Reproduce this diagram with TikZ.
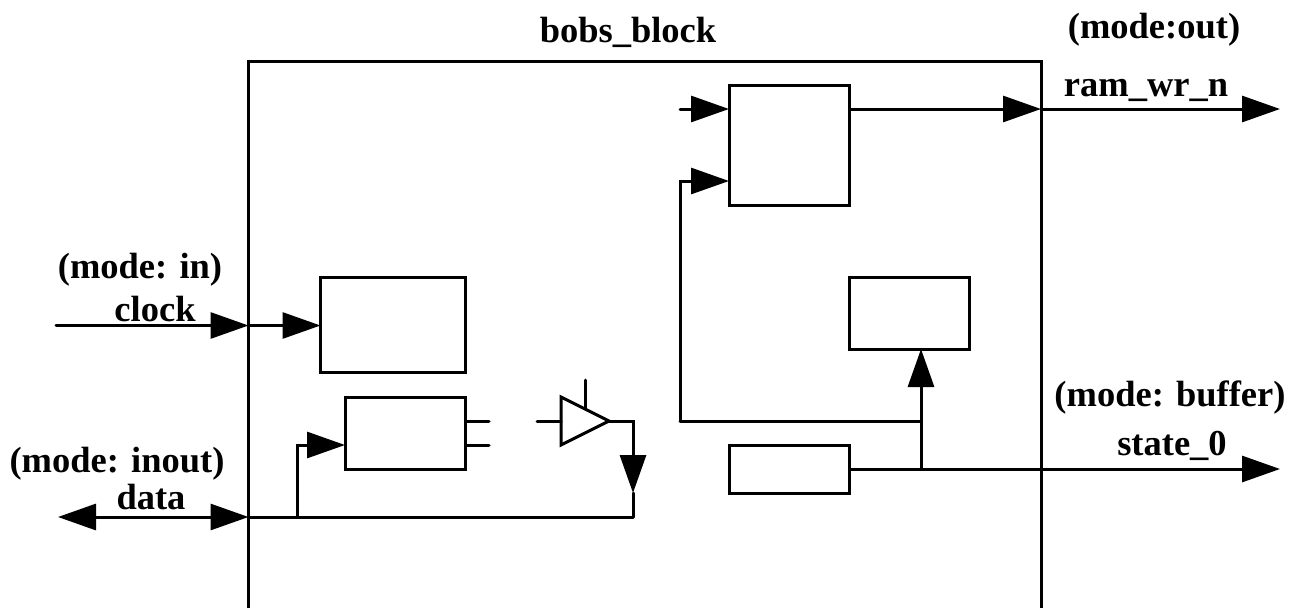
\documentclass[tikz,border=0pt]{standalone}
\usepackage{fontspec}
\setmainfont{Liberation Serif}
\usetikzlibrary{arrows.meta}
\tikzset{
  x=1pt,y=-1pt,
  wire/.style={line width=3pt,line cap=round,line join=miter},
  sig/.style={wire,-{Triangle[length=38pt,width=26pt]}},
  bisig/.style={wire,{Triangle[length=38pt,width=26pt]}-{Triangle[length=38pt,width=26pt]}},
  blockbox/.style={draw,line width=3pt,rectangle,inner sep=0pt,outer sep=0pt,anchor=north west},
  lbl/.style={font=\bfseries\fontsize{36.5}{36.5}\selectfont,anchor=base,inner sep=0pt},
  tri/.style={line width=3pt,line join=miter}
}
\begin{document}
\begin{tikzpicture}
\useasboundingbox (0,0) rectangle (1295,608);
% outer block
\coordinate (oTL) at (248.5,61);
\coordinate (oTR) at (1041,61);
\coordinate (oBL) at (248.5,608);
\coordinate (oBR) at (1041,608);
\draw[wire,line cap=butt] (oBL) -- (oTL) -- (oTR) -- (oBR);
% inner blocks
\node[blockbox,minimum width=145pt,minimum height=95pt] (clkbox) at (320.5,277) {};
\node[blockbox,minimum width=120.5pt,minimum height=72pt] (databox) at (345,397) {};
\node[blockbox,minimum width=120.5pt,minimum height=120pt] (topbox) at (729,85) {};
\node[blockbox,minimum width=120pt,minimum height=72pt] (rightbox) at (849,277) {};
\node[blockbox,minimum width=120.5pt,minimum height=48pt] (smallbox) at (729,445) {};
% free ends and junctions
\coordinate (clkL) at (56,325.5);
\coordinate (clkB) at (248.5,325.5);
\coordinate (clkIn) at (320.5,325.5);
\coordinate (dataL) at (58,517);
\coordinate (dataB) at (248.5,517);
\coordinate (dataJ) at (297,517);
\coordinate (dataUp) at (297,445);
\coordinate (dataIn) at (345,445);
\coordinate (dataEnd) at (633,517);
\coordinate (stubA0) at (465.5,421);
\coordinate (stubA1) at (489,421);
\coordinate (stubB0) at (465.5,445);
\coordinate (stubB1) at (489,445);
\coordinate (bufA) at (561,397);
\coordinate (bufB) at (561,445);
\coordinate (bufTip) at (609,421);
\coordinate (bufIn0) at (537,421);
\coordinate (bufIn1) at (561,421);
\coordinate (bufEn0) at (585,380);
\coordinate (bufEn1) at (585,409);
\coordinate (bufOut) at (633,421);
\coordinate (bufArrow) at (633,493);
\coordinate (ramIn) at (729,109);
\coordinate (ramStub) at (680,109);
\coordinate (fbIn) at (729,181);
\coordinate (fbCorner) at (680,181);
\coordinate (fbLow) at (680,421);
\coordinate (fbJ) at (921,421);
\coordinate (stJ) at (921,469);
\coordinate (stTop) at (921,349);
\coordinate (ramOut) at (849.5,109);
\coordinate (ramB) at (1041,109);
\coordinate (ramEnd) at (1280,109);
\coordinate (stOut) at (849.5,469);
\coordinate (stEnd) at (1280,469);
% connectors
\draw[sig] (clkL) -- (clkB);
\draw[sig] (clkB) -- (clkIn);
\draw[bisig] (dataL) -- (dataB);
\draw[wire] (dataB) -- (dataEnd);
\draw[sig] (dataJ) -- (dataUp) -- (dataIn);
\draw[wire] (stubA0) -- (stubA1);
\draw[wire] (stubB0) -- (stubB1);
\draw[tri] (bufA) -- (bufB) -- (bufTip) -- cycle;
\draw[wire] (bufIn0) -- (bufIn1);
\draw[wire] (bufEn0) -- (bufEn1);
\draw[sig] (bufTip) -- (bufOut) -- (bufArrow);
\draw[wire] (bufArrow) -- (dataEnd);
\draw[sig] (ramStub) -- (ramIn);
\draw[sig] (stJ) -- (fbJ) -- (stTop);
\draw[wire] (fbJ) -- (fbLow);
\draw[sig] (fbLow) -- (fbCorner) -- (fbIn);
\draw[sig] (ramOut) -- (ramB);
\draw[sig] (ramB) -- (ramEnd);
\draw[sig] (stOut) -- (stEnd);
% labels
\node[lbl] (tBlock) at (628,42) {bobs\_block};
\node[lbl] (tOut) at (1154,38) {(mode:out)};
\node[lbl] (tRam) at (1146,96) {ram\_wr\_n};
\node[lbl] (tIn) at (140,278) {(mode: in)};
\node[lbl] (tClk) at (155,321) {clock};
\node[lbl] (tInout) at (117,472) {(mode: inout)};
\node[lbl] (tData) at (151,509) {data};
\node[lbl] (tBuf) at (1170,406) {(mode: buffer)};
\node[lbl] (tState) at (1172,455) {state\_0};
\end{tikzpicture}
\end{document}
